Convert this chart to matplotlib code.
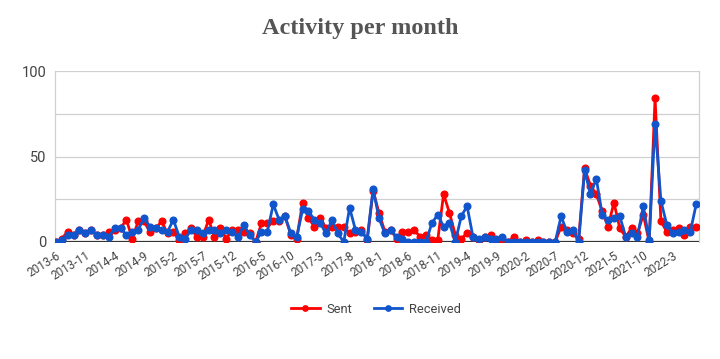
import matplotlib
matplotlib.use("Agg")
import matplotlib.pyplot as plt
from matplotlib.ticker import MultipleLocator
import pandas as pd

# months 2013-6 .. 2022-7
months = [f"{p.year}-{p.month}" for p in pd.period_range("2013-06", "2022-07", freq="M")]

sent = [0, 2, 6, 4, 7, 5, 7, 4, 4, 6, 7, 8, 13, 2, 12, 12, 6, 8, 12, 5,
        6, 1, 5, 8, 3, 3, 13, 3, 8, 2, 7, 7, 6, 5, 0, 11, 11, 12, 12, 15,
        4, 2, 23, 14, 9, 14, 8, 9, 9, 9, 5, 6, 7, 1, 30, 17, 6, 7, 2, 6,
        6, 7, 3, 4, 1, 1, 28, 17, 4, 2, 5, 3, 1, 3, 4, 1, 1, 0, 3, 0,
        1, 0, 1, 0, 0, 0, 9, 7, 5, 2, 43, 33, 28, 18, 9, 23, 8, 3, 8, 5,
        16, 0, 84, 12, 6, 7, 8, 4, 9, 9]
received = [0, 1, 4, 4, 7, 5, 7, 4, 4, 3, 8, 8, 4, 6, 7, 14, 9, 8, 7, 6,
            13, 3, 2, 7, 7, 5, 7, 7, 5, 7, 6, 3, 10, 4, 0, 6, 6, 22, 13, 15,
            5, 3, 19, 18, 13, 11, 5, 13, 5, 0, 20, 7, 6, 2, 31, 14, 5, 7, 3, 2,
            0, 0, 0, 0, 11, 16, 9, 11, 0, 15, 21, 3, 2, 3, 2, 2, 3, 0, 0, 0,
            0, 0, 0, 0, 0, 0, 15, 6, 7, 0, 42, 28, 37, 16, 13, 14, 15, 3, 5, 3,
            21, 1, 69, 24, 10, 5, 6, 7, 6, 22]

plt.rcParams['font.family'] = ['Roboto', 'DejaVu Sans']

fig = plt.figure(figsize=(7.2, 3.59), dpi=100)
ax = fig.add_axes([0.076, 0.326, 0.895, 0.476])

x = list(range(len(months)))
ax.plot(x, sent, color='#ff0000', lw=2, marker='o', ms=4.8, label='Sent', zorder=3)
ax.plot(x, received, color='#1155cc', lw=2, marker='o', ms=4.8, label='Received', zorder=4)

ax.set_xlim(-0.2, 109.5)
ax.set_ylim(0, 100)
ax.yaxis.set_major_locator(MultipleLocator(50))
ax.yaxis.set_minor_locator(MultipleLocator(25))
ax.grid(True, axis='y', which='both', color='#d0d0d0', lw=0.9)
ax.set_axisbelow(True)
ax.axhline(0, color='#333333', lw=1.6, zorder=2)

for side in ['top', 'bottom']:
    ax.spines[side].set_visible(False)
for side in ['left', 'right']:
    ax.spines[side].set_color('#d0d0d0')
    ax.spines[side].set_linewidth(0.9)

ax.set_xticks(x[::5])
ax.set_xticklabels(months[::5], rotation=32, ha='right', rotation_mode='anchor')
ax.tick_params(axis='x', length=0, pad=5, labelsize=8.5, labelcolor='#444444')
ax.tick_params(axis='y', which='both', length=0, pad=6, labelsize=10.5, labelcolor='#444444')

fig.text(0.5, 0.92, 'Activity per month', ha='center', va='center',
         fontsize=17.5, fontweight='bold', color='#555555',
         family=['Liberation Serif', 'DejaVu Serif'])

fig.legend(loc='center', bbox_to_anchor=(0.522, 0.138), ncol=2, frameon=False,
           fontsize=9.3, labelcolor='#444444', handlelength=2.2, handletextpad=0.5,
           columnspacing=1.7, markerscale=0.8)

fig.savefig('out.png', dpi=100)
